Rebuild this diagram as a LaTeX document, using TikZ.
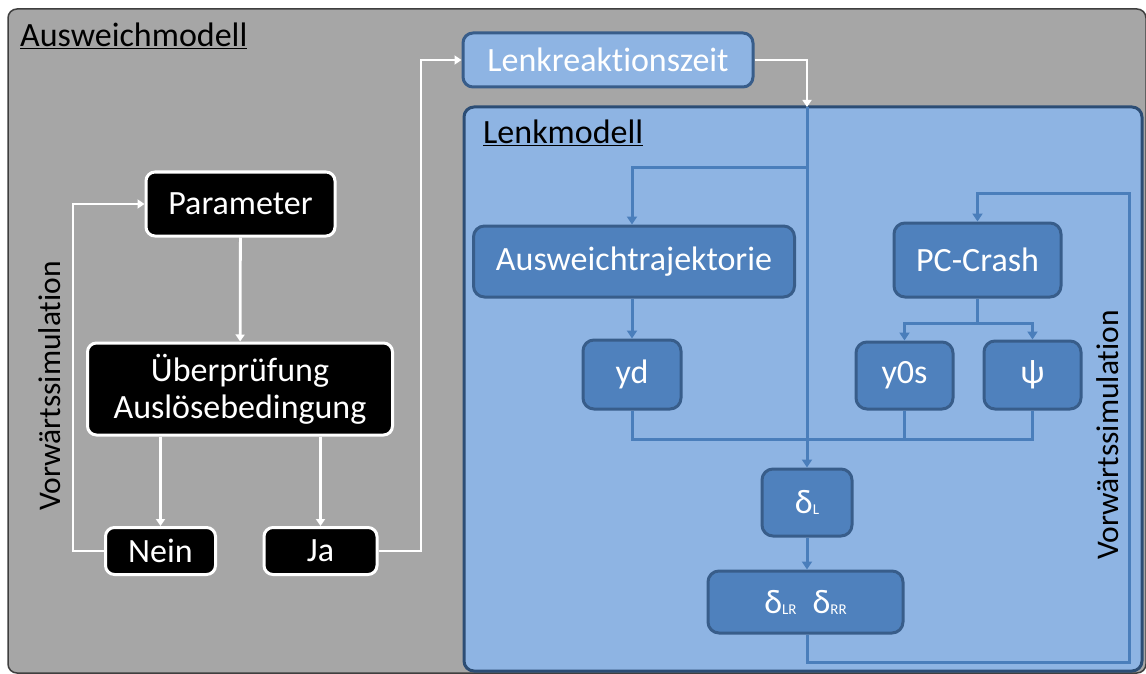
\documentclass[tikz,border=0pt]{standalone}
\usepackage{fontspec}
\setmainfont{Carlito}[Ligatures=NoCommon]
\usetikzlibrary{arrows.meta}
\definecolor{panelgray}{HTML}{A6A6A6}
\definecolor{paneledge}{HTML}{3F3F3F}
\definecolor{lightblue}{HTML}{8EB4E3}
\definecolor{midblue}{HTML}{4F81BD}
\definecolor{boxedge}{HTML}{385D8A}
\definecolor{lineblue}{HTML}{4A7EBB}
\definecolor{deepedge}{HTML}{2C4D75}
\newcommand{\dsub}[1]{\raisebox{-1pt}{\fontsize{15}{15}\selectfont #1}}
\begin{document}
\begin{tikzpicture}[x=1pt,y=-1pt,
  txt/.style={font=\fontsize{34}{37}\selectfont},
  blackbox/.style={txt,rectangle,rounded corners=9pt,draw=white,line width=3pt,fill=black,text=white,align=center,inner sep=0pt},
  bluebox/.style={txt,rectangle,rounded corners=11pt,draw=boxedge,line width=3pt,fill=midblue,text=white,align=center,inner sep=0pt},
  warrow/.style={draw=white,line width=2.8pt,-{Triangle[width=9pt,length=7pt]}},
  barrow/.style={draw=lineblue,line width=3pt,-{Triangle[width=10pt,length=8pt]}},
  bline/.style={draw=lineblue,line width=3pt},
  title/.style={txt,text=black,inner sep=0pt},
  sidetext/.style={font=\fontsize{31.5}{34}\selectfont,rotate=90,text=black}]
\useasboundingbox (0,0) rectangle (1146,674);

% outer panel and inner steering panel
\node[rectangle,rounded corners=9pt,draw=paneledge,line width=1.5pt,fill=panelgray,
      minimum width=1138pt,minimum height=664pt,inner sep=0pt] (outer) at (577,341) {};
\node[title,anchor=base west] (otitle) at (20,47) {\underline{Ausweichmodell}};

\node[rectangle,rounded corners=10pt,draw=deepedge,line width=3pt,fill=lightblue,
      minimum width=678pt,minimum height=564pt,inner sep=0pt] (steer) at (803,389) {};
\node[title,anchor=base west] (stitle) at (483,144) {\underline{Lenkmodell}};

% decision loop
\node[blackbox,minimum width=189pt,minimum height=64pt] (param) at (240.5,204) {Parameter};
\node[blackbox,minimum width=305pt,minimum height=92pt] (check) at (240,389) {Überprüfung\\Auslösebedingung};
\node[blackbox,minimum width=110pt,minimum height=47pt] (nein) at (160.5,551) {Nein};
\node[blackbox,minimum width=113pt,minimum height=47pt] (ja) at (320.5,551) {Ja};

\node[sidetext] (vsl) at (50,386) {Vorwärtssimulation};
\node[sidetext] (vsr) at (1108,435) {Vorwärtssimulation};

% reaction time
\node[txt,rectangle,rounded corners=10pt,draw=boxedge,line width=3pt,fill=lightblue,text=white,
      minimum width=290pt,minimum height=54pt,inner sep=0pt] (lrz) at (608,60) {Lenkreaktionszeit};

% steering model blocks
\node[bluebox,minimum width=321pt,minimum height=71pt] (traj) at (634,261.5) {Ausweichtrajektorie};
\node[bluebox,minimum width=167pt,minimum height=74pt] (pcc) at (977.5,260) {PC-Crash};
\node[bluebox,minimum width=98pt,minimum height=69pt] (yd) at (632,374.5) {yd};
\node[bluebox,minimum width=97pt,minimum height=67pt] (yos) at (904.5,375.5) {y0s};
\node[bluebox,minimum width=97pt,minimum height=68pt] (psi) at (1032.5,375) {ψ};
\node[bluebox,minimum width=90pt,minimum height=67pt] (dl) at (807,502.5) {δ\dsub{L}};
\node[bluebox,minimum width=195pt,minimum height=62pt] (dlr) at (805.5,602) {δ\dsub{LR}\hspace{16pt}δ\dsub{RR}};

% junction points
\coordinate (loopL) at (73,551);
\coordinate (loopJ) at (421,551);
\coordinate (entry) at (807,107);
\coordinate (split) at (807,168);
\coordinate (loopRb) at (1129,662);
\coordinate (loopRt) at (1129,193);

% white connectors
\draw[warrow] (param) -- (check);
\draw[warrow] (nein.north |- check.south) -- (nein.north);
\draw[warrow] (ja.north |- check.south) -- (ja.north);
\draw[warrow] (nein.west) -- (loopL) |- (param.west);
\draw[warrow] (ja.east) -- (loopJ) |- (lrz.west);
\draw[warrow] (lrz.east) -| (entry);

% blue connectors
\draw[barrow] (entry) -- (dl.north);
\draw[barrow] (split) -| (traj.north -| yd.north);
\draw[barrow] (yd.north |- traj.south) -- (yd.north);
\draw[barrow] (pcc.south) -- ++(0,25) -| (yos.north);
\draw[barrow] (pcc.south) -- ++(0,25) -| (psi.north);
\draw[bline] (yd.south) -- (yd.south |- 0,439) -| (psi.south);
\draw[bline] (yos.south) -- (yos.south |- 0,439);
\draw[barrow] (dl) -- (dl.south |- dlr.north);
\draw[barrow] (dlr.south -| dl.south) |- (loopRb) -- (loopRt) -| (pcc.north);
\end{tikzpicture}
\end{document}
